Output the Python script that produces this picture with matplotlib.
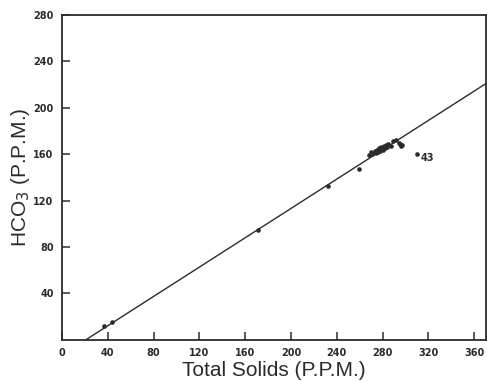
import matplotlib
matplotlib.use('Agg')
import matplotlib.pyplot as plt

# Hot / cold spring samples
low_x = [37, 44]
low_y = [12, 15]
mid_x = [171, 232, 259]
mid_y = [95, 133, 147]
cluster_x = [268, 270, 271, 273, 274, 275, 276, 277, 278, 279, 280, 281,
             282, 283, 284, 285, 287, 289, 292, 294, 295, 296, 297]
cluster_y = [159, 162, 160, 163, 161, 164, 162, 165, 163, 166, 164, 167,
             165, 168, 166, 169, 167, 171, 172, 170, 169, 167, 168]
outlier_x = [310]
outlier_y = [160]
outlier_label = '43'

# regression line end points
fit_x = [21, 372]
fit_y = [0, 222]

xticks = [0, 40, 80, 120, 160, 200, 240, 280, 320, 360]
yticks = [40, 80, 120, 160, 200, 240, 280]

plt.rcParams['font.family'] = ['DejaVu Sans']
ink = '#2b2b2b'

fig = plt.figure(figsize=(4.87, 3.81), dpi=100)
ax = fig.add_axes([0.1273, 0.1084, 0.871, 0.852])

ax.plot(fit_x, fit_y, color=ink, lw=1.0, zorder=2)
pts_x = low_x + mid_x + cluster_x + outlier_x
pts_y = low_y + mid_y + cluster_y + outlier_y
ax.scatter(pts_x, pts_y, s=11, color=ink, zorder=3, linewidths=0)
ax.annotate(outlier_label, (outlier_x[0], outlier_y[0]), xytext=(3, -5),
            textcoords='offset points', fontsize=7, fontweight='bold', color=ink)

ax.set_xlim(0, 370.5)
ax.set_ylim(0, 280)
ax.set_xticks(xticks)
ax.set_yticks(yticks)
ax.tick_params(direction='in', length=6, width=1.1, colors=ink,
               labelsize=7, pad=6)
for lab in ax.get_xticklabels() + ax.get_yticklabels():
    lab.set_fontweight('bold')
for s in ax.spines.values():
    s.set_color(ink)
    s.set_linewidth(1.3)

ax.set_xlabel('Total Solids (P.P.M.)', fontsize=15, color=ink, labelpad=2,
              family='Liberation Sans')
ax.set_ylabel(r'HCO$_3$ (P.P.M.)', fontsize=15, color=ink, labelpad=1,
              family='Liberation Sans')

fig.savefig('out.png', dpi=100)
